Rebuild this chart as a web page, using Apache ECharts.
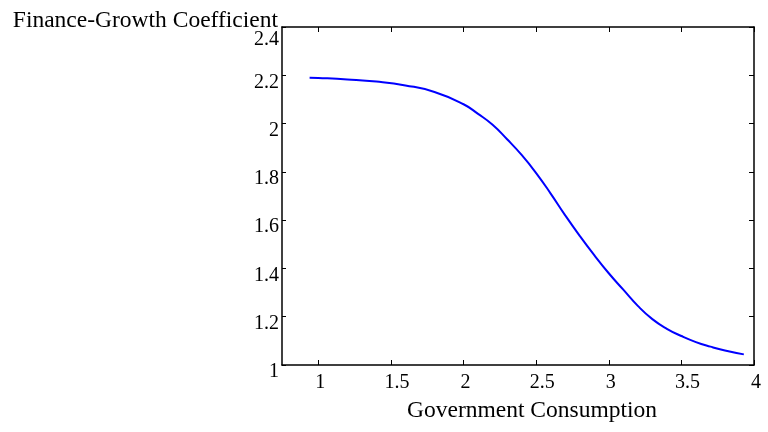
<!DOCTYPE html>
<html>
<head>
<meta charset="utf-8">
<script src="https://cdn.jsdelivr.net/npm/echarts@6/dist/echarts.min.js"></script>
<style>html,body{margin:0;padding:0;background:#fff}#c{width:768px;height:432px}</style>
</head>
<body>
<div id="c"></div>
<script>
const govConsumption = [0.94, 1.0, 1.2, 1.4, 1.6, 1.8, 2.0, 2.1, 2.2, 2.3, 2.4, 2.5, 2.6, 2.7, 2.8, 2.9, 3.0, 3.1, 3.2, 3.3, 3.4, 3.5, 3.6, 3.7, 3.8, 3.93];
const coefficient = [2.19, 2.189, 2.183, 2.174, 2.158, 2.131, 2.080, 2.040, 1.995, 1.935, 1.870, 1.795, 1.710, 1.620, 1.535, 1.455, 1.380, 1.312, 1.245, 1.190, 1.150, 1.120, 1.095, 1.076, 1.060, 1.044];
const xTicks = [1, 1.5, 2, 2.5, 3, 3.5, 4];
const xLabels = ['1', '1.5', '2', '2.5', '3', '3.5', '4'];
const yLabels = ['1', '1.2', '1.4', '1.6', '1.8', '2', '2.2', '2.4'];
const xTitle = 'Government Consumption';
const yTitle = 'Finance-Growth Coefficient';

const FONT = "'Liberation Serif', 'Times New Roman', serif";
const chart = echarts.init(document.getElementById('c'), null, {renderer: 'canvas'});
const data = govConsumption.map((x, i) => [x, coefficient[i]]);
const lineStyle = {color: '#000', width: 1.5};

chart.setOption({
  animation: false,
  backgroundColor: '#fff',
  title: {
    text: yTitle, right: 490, top: 9, padding: 0,
    textStyle: {fontFamily: FONT, fontSize: 23.5, fontWeight: 'normal', color: '#000', lineHeight: 23.5}
  },
  grid: {left: 282, right: 14, top: 27, bottom: 67, containLabel: false},
  xAxis: [{
    type: 'value', position: 'bottom', min: 0.75, max: 4,
    name: xTitle, nameLocation: 'middle', nameGap: 34,
    nameTextStyle: {fontFamily: FONT, fontSize: 23.5, color: '#000', padding: [0, 0, 0, 28]},
    axisLine: {show: true, onZero: false, lineStyle: lineStyle},
    axisTick: {show: true, inside: true, length: 5, customValues: xTicks, lineStyle: {color: '#000', width: 1}},
    axisLabel: {
      customValues: xTicks, margin: 8, color: '#000', fontFamily: FONT, fontSize: 20, lineHeight: 20,
      formatter: function (v) {
        const idx = xTicks.indexOf(v);
        const s = idx >= 0 ? xLabels[idx] : String(v);
        return s.indexOf('.') >= 0 ? '{d|' + s + '}' : '{i|' + s + '}';
      },
      rich: {
        d: {fontFamily: FONT, fontSize: 20, color: '#000', padding: [0, 0, 0, 12]},
        i: {fontFamily: FONT, fontSize: 20, color: '#000', padding: [0, 0, 0, 4]}
      }
    },
    splitLine: {show: false}
  }, {
    type: 'value', position: 'top', min: 0.75, max: 4,
    axisLine: {show: true, onZero: false, lineStyle: lineStyle},
    axisTick: {show: true, inside: true, length: 5, customValues: xTicks, lineStyle: {color: '#000', width: 1}},
    axisLabel: {show: false},
    splitLine: {show: false}
  }],
  yAxis: [{
    type: 'value', position: 'left', min: 1, max: 2.4, interval: 0.2,
    axisLine: {show: true, onZero: false, lineStyle: lineStyle},
    axisTick: {show: true, inside: true, length: 4, lineStyle: {color: '#000', width: 1}},
    axisLabel: {
      margin: 3, color: '#000', fontFamily: FONT, fontSize: 20, lineHeight: 14, verticalAlign: 'top',
      formatter: function (v) {
        const s = yLabels[Math.round((v - 1) / 0.2)];
        return s === '2.4' ? '{t|' + s + '}' : s;
      },
      rich: {t: {fontFamily: FONT, fontSize: 20, color: '#000', lineHeight: 14, padding: [12, 0, 0, 0]}}
    },
    splitLine: {show: false}
  }, {
    type: 'value', position: 'right', min: 1, max: 2.4, interval: 0.2,
    axisLine: {show: true, onZero: false, lineStyle: lineStyle},
    axisTick: {show: true, inside: true, length: 5, lineStyle: {color: '#000', width: 1}},
    axisLabel: {show: false},
    splitLine: {show: false}
  }],
  series: [{
    type: 'line', xAxisIndex: 0, yAxisIndex: 0, data: data,
    smooth: true, showSymbol: false, symbol: 'none',
    lineStyle: {color: '#0000ff', width: 2}
  }]
});
</script>
</body>
</html>
